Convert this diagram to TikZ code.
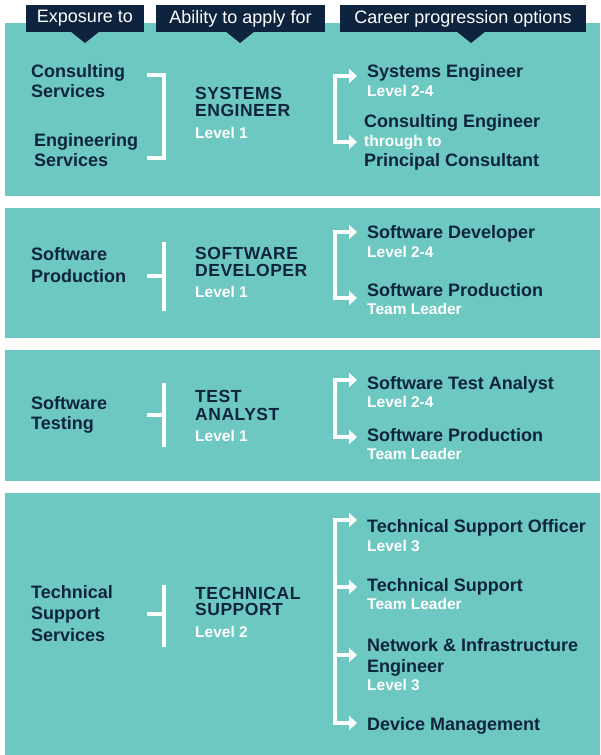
\documentclass[tikz,border=0pt]{standalone}
\usepackage{fontspec}
\setmainfont{Liberation Sans}
\newfontfamily\capsfont[LetterSpace=3]{Liberation Sans}
\usetikzlibrary{arrows.meta}

\definecolor{panel}{RGB}{109,200,193}
\definecolor{navy}{RGB}{14,36,62}

\tikzset{
  tab/.style={fill=navy, text=white, inner sep=0pt, font=\fontsize{18}{20}\selectfont},
  dark/.style={text=navy, anchor=base west, inner sep=0pt, font=\bfseries\fontsize{18}{20}\selectfont},
  role/.style={dark, font=\capsfont\bfseries\fontsize{17.5}{20}\selectfont},
  lvl/.style={text=white, anchor=base west, inner sep=0pt, font=\bfseries\fontsize{15.5}{18}\selectfont},
  link/.style={white, line width=4pt, line join=miter},
  branch/.style={link, -{Triangle[length=8pt,width=14pt]}},
}

\begin{document}
\begin{tikzpicture}[x=1pt, y=-1pt]

  \newcommand\XA{31};
  \newcommand\XB{195};
  \newcommand\XC{367};

  \useasboundingbox (0,0) rectangle (600,755);

  % the four panels
  \fill[panel] (5, 23) rectangle (600,196);
  \fill[panel] (5,208) rectangle (600,338);
  \fill[panel] (5,350) rectangle (600,481);
  \fill[panel] (5,493) rectangle (600,755);

  % column headers
  \node[tab, minimum width=118pt, minimum height=27pt] (hexp) at (85,18.5) {Exposure to};
  \node[tab, minimum width=169pt, minimum height=27pt] (happ) at (240.5,18.5) {Ability to apply for};
  \node[tab, minimum width=246pt, minimum height=27pt] (hcar) at (463,18.5) {Career progression options};
  \fill[navy] (70,31) -- (100,31) -- (85,43) -- cycle;
  \fill[navy] (225,31) -- (255,31) -- (240,43) -- cycle;
  \fill[navy] (456,31) -- (486,31) -- (471,43) -- cycle;

  % panel 1
  \node[dark] (cons) at (\XA,77) {Consulting};
  \node[dark] (conss) at (\XA,97) {Services};
  \node[dark] (eng) at (34,146) {Engineering};
  \node[dark] (engs) at (34,166) {Services};
  \node[role] (syse) at (\XB,99) {SYSTEMS};
  \node[role] (syse2) at (\XB,116) {ENGINEER};
  \node[lvl] (syslv) at (\XB,138) {Level 1};
  \node[dark] (osys) at (\XC,77) {Systems Engineer};
  \node[lvl] (osyslv) at (\XC,96) {Level 2-4};
  \node[dark] (ocon) at (364,127) {Consulting Engineer};
  \node[lvl] (ocon2) at (364,146) {through to};
  \node[dark] (ocon3) at (364,166) {Principal Consultant};

  \draw[link] (147,75) -- (164,75) -- (164,158) -- (147,158);
  \draw[link, {Triangle[length=8pt,width=14pt]}-{Triangle[length=8pt,width=14pt]}]
    (357,76) -- (335,76) -- (335,142) -- (357,142);

  % panel 2
  \node[dark] (swp) at (\XA,260) {Software};
  \node[dark] (swp2) at (\XA,282) {Production};
  \node[role] (swd) at (\XB,259) {SOFTWARE};
  \node[role] (swd2) at (\XB,276) {DEVELOPER};
  \node[lvl] (swdlv) at (\XB,297) {Level 1};
  \node[dark] (oswd) at (\XC,238) {Software Developer};
  \node[lvl] (oswdlv) at (\XC,257) {Level 2-4};
  \node[dark] (oswp) at (\XC,296) {Software Production};
  \node[lvl] (oswptl) at (\XC,314) {Team Leader};

  \draw[link] (164,242) -- (164,311);
  \draw[link] (147,276) -- (164,276);
  \draw[link, {Triangle[length=8pt,width=14pt]}-{Triangle[length=8pt,width=14pt]}]
    (357,232) -- (335,232) -- (335,298) -- (357,298);

  % panel 3
  \node[dark] (swt) at (\XA,409) {Software};
  \node[dark] (swt2) at (\XA,429) {Testing};
  \node[role] (tan) at (\XB,402) {TEST};
  \node[role] (tan2) at (\XB,420) {ANALYST};
  \node[lvl] (tanlv) at (\XB,441) {Level 1};
  \node[dark] (otan) at (\XC,389) {Software Test Analyst};
  \node[lvl] (otanlv) at (\XC,407) {Level 2-4};
  \node[dark] (otsp) at (\XC,441) {Software Production};
  \node[lvl] (otsptl) at (\XC,459) {Team Leader};

  \draw[link] (164,383) -- (164,447);
  \draw[link] (147,415) -- (164,415);
  \draw[link, {Triangle[length=8pt,width=14pt]}-{Triangle[length=8pt,width=14pt]}]
    (357,380) -- (335,380) -- (335,437) -- (357,437);

  % panel 4
  \node[dark] (tss) at (\XA,598) {Technical};
  \node[dark] (tss2) at (\XA,619) {Support};
  \node[dark] (tss3) at (\XA,641) {Services};
  \node[role] (tsu) at (\XB,599) {TECHNICAL};
  \node[role] (tsu2) at (\XB,615) {SUPPORT};
  \node[lvl] (tsulv) at (\XB,637) {Level 2};
  \node[dark] (otso) at (\XC,532) {Technical Support Officer};
  \node[lvl] (otsolv) at (\XC,551) {Level 3};
  \node[dark] (otst) at (\XC,591) {Technical Support};
  \node[lvl] (otsttl) at (\XC,609) {Team Leader};
  \node[dark] (onie) at (\XC,651) {Network \& Infrastructure};
  \node[dark] (onie2) at (\XC,672) {Engineer};
  \node[lvl] (onielv) at (\XC,690) {Level 3};
  \node[dark] (odm) at (\XC,730) {Device Management};

  \draw[link] (164,585) -- (164,647);
  \draw[link] (147,614) -- (164,614);
  \draw[link, {Triangle[length=8pt,width=14pt]}-{Triangle[length=8pt,width=14pt]}]
    (357,520) -- (335,520) -- (335,723) -- (357,723);
  \draw[branch] (335,587) -- (357,587);
  \draw[branch] (335,655) -- (357,655);

\end{tikzpicture}
\end{document}
